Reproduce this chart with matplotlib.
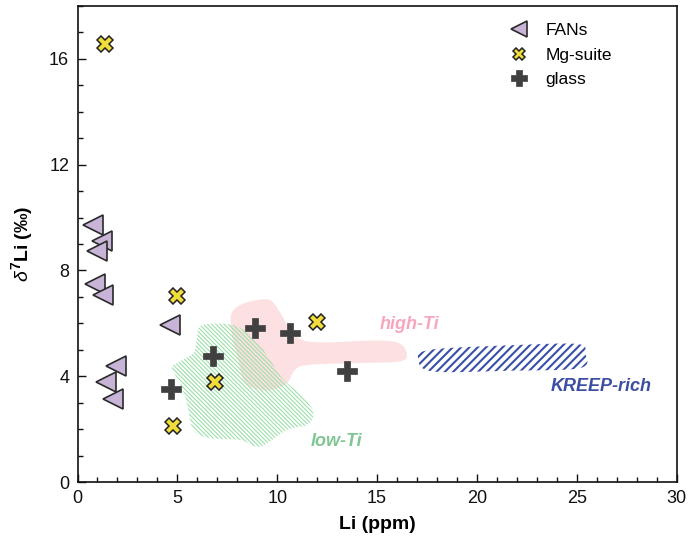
import matplotlib
matplotlib.use("Agg")
import matplotlib.pyplot as plt
import numpy as np
from matplotlib.path import Path
from matplotlib.patches import PathPatch
from matplotlib.ticker import MultipleLocator

plt.rcParams['font.family'] = ['Liberation Sans', 'DejaVu Sans']
plt.rcParams['mathtext.fontset'] = 'custom'
plt.rcParams['mathtext.rm'] = 'Liberation Sans'
plt.rcParams['mathtext.it'] = 'Liberation Sans:italic'
plt.rcParams['mathtext.bf'] = 'Liberation Sans:bold'

# --- sample data -------------------------------------------------------
fan_li = [0.78, 1.21, 0.97, 0.86, 1.30, 4.62, 1.93, 1.41, 1.76]
fan_d7 = [9.71, 9.11, 8.73, 7.47, 7.06, 5.93, 4.37, 3.80, 3.15]

mg_li = [1.36, 5.00, 12.00, 6.90, 4.79]
mg_d7 = [16.57, 7.03, 6.06, 3.78, 2.10]

glass_li = [8.91, 10.62, 6.80, 4.67, 13.47]
glass_d7 = [5.83, 5.64, 4.75, 3.51, 4.18]

# --- field outlines (Li ppm, d7Li) ------------------------------------
high_ti_li = [7.72, 8.39, 9.55, 10.05, 10.56, 11.23, 12.39, 14.90, 16.06, 16.48,
              16.15, 14.06, 11.56, 10.89, 10.48, 9.74, 9.14, 8.39, 8.04, 7.74]
high_ti_d7 = [6.39, 6.77, 6.90, 6.52, 5.88, 5.38, 5.28, 5.35, 5.26, 4.88,
              4.56, 4.50, 4.43, 4.24, 3.74, 3.49, 3.49, 3.74, 4.62, 5.57]

low_ti_li = [6.13, 6.97, 7.97, 8.97, 9.64, 10.31, 11.31, 11.81, 11.48, 10.48,
             9.14, 8.14, 6.63, 5.80, 5.47, 5.13, 4.72, 5.13, 5.80, 5.97]
low_ti_d7 = [5.89, 5.99, 5.89, 5.32, 4.62, 3.87, 3.23, 2.60, 2.16, 1.97,
             1.34, 1.59, 1.66, 1.97, 2.98, 3.74, 4.31, 4.56, 4.88, 5.38]

kreep_li = [17.07, 17.65, 21.66, 25.00, 25.41, 25.16, 21.66, 17.82]
kreep_d7 = [4.62, 5.00, 5.17, 5.22, 4.88, 4.31, 4.21, 4.18]


def smooth_closed_path(xs, ys):
    """Closed Catmull-Rom outline expressed as cubic Bezier segments."""
    p = np.column_stack([xs, ys])
    n = len(p)
    verts = [p[0]]
    codes = [Path.MOVETO]
    for i in range(n):
        p0, p1, p2, p3 = p[i - 1], p[i], p[(i + 1) % n], p[(i + 2) % n]
        c1 = p1 + (p2 - p0) / 6.0
        c2 = p2 - (p3 - p1) / 6.0
        verts += [c1, c2, p2]
        codes += [Path.CURVE4] * 3
    verts.append(p[0])
    codes.append(Path.CLOSEPOLY)
    return Path(verts, codes)


fig = plt.figure(figsize=(6.89, 5.46), dpi=100)
ax = fig.add_axes([0.1125, 0.1172, 0.8697, 0.8718])

# filled / hatched fields
pink = PathPatch(smooth_closed_path(high_ti_li, high_ti_d7),
                 facecolor='#fde0e1', edgecolor='none', zorder=1)
ax.add_patch(pink)

green = PathPatch(smooth_closed_path(low_ti_li, low_ti_d7),
                  facecolor='none', edgecolor='#9ce0aa', linewidth=0,
                  hatch='\\' * 8, zorder=2)
if hasattr(green, 'set_hatch_linewidth'):
    green.set_hatch_linewidth(0.8)
ax.add_patch(green)

blue = PathPatch(smooth_closed_path(kreep_li, kreep_d7),
                 facecolor='none', edgecolor='#3a4fa8', linewidth=0,
                 hatch='/' * 4, zorder=2)
if hasattr(blue, 'set_hatch_linewidth'):
    blue.set_hatch_linewidth(1.5)
ax.add_patch(blue)

# field labels
ax.text(16.6, 5.95, 'high-Ti', color='#f8a6bb', fontsize=13, fontweight='bold',
        style='italic', ha='center', va='center', zorder=3)
ax.text(26.2, 3.6, 'KREEP-rich', color='#3c4ea2', fontsize=13, fontweight='bold',
        style='italic', ha='center', va='center', zorder=3)
ax.text(12.96, 1.55, 'low-Ti', color='#80c592', fontsize=13, fontweight='bold',
        style='italic', ha='center', va='center', zorder=3)

# samples
ax.plot(fan_li, fan_d7, linestyle='none', marker='<', markersize=15,
        markerfacecolor='#c8b4d6', markeredgecolor='#2a2a2a', markeredgewidth=1.2,
        label='FANs', zorder=4)
ax.plot(mg_li, mg_d7, linestyle='none', marker='X', markersize=11.5,
        markerfacecolor='#f0dd3c', markeredgecolor='#222222', markeredgewidth=1.1,
        label='Mg-suite', zorder=5)
ax.plot(glass_li, glass_d7, linestyle='none', marker='P', markersize=14,
        markerfacecolor='#404040', markeredgecolor='#404040', markeredgewidth=0.5,
        label='glass', zorder=5)

ax.set_xlim(0, 30)
ax.set_ylim(0, 18)
ax.xaxis.set_major_locator(MultipleLocator(5))
ax.xaxis.set_minor_locator(MultipleLocator(1))
ax.yaxis.set_major_locator(MultipleLocator(4))
ax.yaxis.set_minor_locator(MultipleLocator(1))
ax.tick_params(which='both', direction='in', top=False, right=False,
               labelsize=13, width=1.0, colors='#111111')
ax.tick_params(which='major', length=6, pad=6)
ax.tick_params(which='minor', length=3.5)
for s in ax.spines.values():
    s.set_linewidth(1.2)
    s.set_color('#111111')

ax.set_xlabel('Li (ppm)', fontsize=14, fontweight='bold', labelpad=6)
ax.set_ylabel(r'$\delta^{\mathbf{7}}$Li (‰)', fontsize=14, fontweight='bold',
              labelpad=10)

leg = ax.legend(loc='upper right', bbox_to_anchor=(0.912, 0.99), frameon=False,
                fontsize=12.5, handletextpad=0.5, labelspacing=0.55,
                borderaxespad=0.3, markerscale=0.8)

fig.savefig('out.png', dpi=100)
